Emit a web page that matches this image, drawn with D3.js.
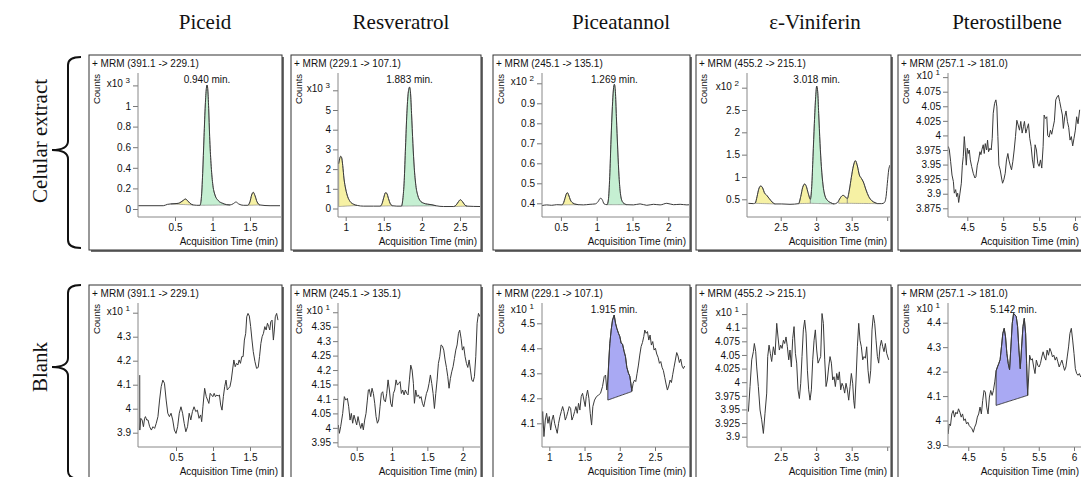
<!DOCTYPE html>
<html><head><meta charset="utf-8">
<script src="https://cdn.jsdelivr.net/npm/d3@7"></script>
<style>body{margin:0;background:#fff}svg{display:block}</style>
</head><body>
<svg id="chart" width="1081" height="477"></svg>
<script>
// ---------------- DATA ----------------
const columns = ["Piceid", "Resveratrol", "Piceatannol", "ε-Viniferin", "Pterostilbene"];
const rowLabels = ["Celular extract", "Blank"];
const mrmLabels = ["+ MRM (391.1 -> 229.1)", "+ MRM (229.1 -> 107.1)", "+ MRM (245.1 -> 135.1)", "+ MRM (455.2 -> 215.1)", "+ MRM (257.1 -> 181.0)",
                   "+ MRM (391.1 -> 229.1)", "+ MRM (245.1 -> 135.1)", "+ MRM (229.1 -> 107.1)", "+ MRM (455.2 -> 215.1)", "+ MRM (257.1 -> 181.0)"];
const exponents = [3, 3, 2, 2, 1, 1, 1, 1, 1, 1];

const yTicks = [
  [0, 0.2, 0.4, 0.6, 0.8, 1, 1.2],
  [0, 1, 2, 3, 4, 5, 6],
  [0.4, 0.5, 0.6, 0.7, 0.8, 0.9, 1.0],
  [0.5, 1, 1.5, 2, 2.5, 3],
  [3.875, 3.9, 3.925, 3.95, 3.975, 4, 4.025, 4.05, 4.075, 4.1],
  [3.9, 4, 4.1, 4.2, 4.3, 4.4],
  [3.95, 4, 4.05, 4.1, 4.15, 4.2, 4.25, 4.3, 4.35, 4.4],
  [4.1, 4.2, 4.3, 4.4, 4.5],
  [3.9, 3.925, 3.95, 3.975, 4, 4.025, 4.05, 4.075, 4.1, 4.125],
  [3.9, 4, 4.1, 4.2, 4.3, 4.4]
];
// level of the "x10^n" label (top tick, shown without number)
const exponentAt = [1.2, 6, 1.0, 3, 4.1, 4.4, 4.4, 4.55, 4.125, 4.45];

const xTicks = [
  [0.5, 1, 1.5], [1, 1.5, 2, 2.5], [0.5, 1, 1.5, 2], [2.5, 3, 3.5, 4], [4.5, 5, 5.5, 6],
  [0.5, 1, 1.5], [0.5, 1, 1.5, 2], [1, 1.5, 2, 2.5], [2.5, 3, 3.5, 4], [4.5, 5, 5.5, 6]
];
const xTicksUnlabeled = [[], [], [], [4], [], [], [], [], [4], []];

// traces: [acquisition time (min), counts (in units of x10^n)]
const piceidCell = [[0.011,0.032],[0.344,0.032],[0.398,0.045],[0.442,0.049],[0.5,0.052],[0.544,0.055],[0.58,0.068],[0.611,0.084],[0.638,0.097],[0.664,0.084],[0.70,0.055],[0.744,0.039],[0.789,0.036],[0.833,0.036],[0.851,0.104],[0.869,0.346],[0.887,0.702],[0.904,1.01],[0.918,1.17],[0.927,1.204],[0.936,1.17],[0.949,0.977],[0.962,0.702],[0.98,0.443],[1.002,0.249],[1.033,0.136],[1.078,0.081],[1.136,0.055],[1.189,0.042],[1.233,0.039],[1.278,0.052],[1.313,0.068],[1.349,0.049],[1.411,0.036],[1.469,0.036],[1.50,0.071],[1.522,0.136],[1.544,0.162],[1.567,0.129],[1.593,0.071],[1.633,0.039],[1.767,0.032],[1.90,0.032]];

const resveratrolCell = [[0.908,2.27],[0.921,2.53],[0.934,2.65],[0.947,2.58],[0.961,2.18],[0.978,1.50],[1.0,0.99],[1.026,0.60],[1.057,0.36],[1.101,0.22],[1.154,0.154],[1.232,0.12],[1.364,0.12],[1.452,0.12],[1.478,0.256],[1.50,0.563],[1.522,0.80],[1.539,0.77],[1.561,0.51],[1.588,0.222],[1.618,0.137],[1.671,0.12],[1.732,0.12],[1.75,0.478],[1.768,1.416],[1.785,3.12],[1.803,4.83],[1.82,5.85],[1.838,6.16],[1.851,5.85],[1.864,4.83],[1.882,3.29],[1.899,2.10],[1.921,1.16],[1.947,0.65],[1.978,0.39],[2.022,0.27],[2.075,0.22],[2.132,0.188],[2.189,0.137],[2.285,0.10],[2.417,0.10],[2.452,0.188],[2.482,0.358],[2.504,0.444],[2.531,0.358],[2.561,0.188],[2.592,0.12],[2.768,0.10]];

const piceatannolCell = [[0.231,0.388],[0.301,0.392],[0.371,0.39],[0.441,0.393],[0.515,0.392],[0.538,0.403],[0.557,0.425],[0.576,0.447],[0.59,0.453],[0.608,0.442],[0.632,0.417],[0.664,0.402],[0.711,0.395],[0.748,0.393],[0.814,0.392],[0.907,0.395],[0.981,0.397],[1.019,0.408],[1.051,0.425],[1.075,0.42],[1.103,0.397],[1.145,0.393],[1.163,0.417],[1.182,0.533],[1.20,0.717],[1.219,0.883],[1.233,0.967],[1.247,0.995],[1.261,0.958],[1.275,0.833],[1.294,0.667],[1.312,0.533],[1.331,0.45],[1.359,0.408],[1.392,0.397],[1.42,0.393],[1.513,0.392],[1.606,0.397],[1.699,0.39],[1.793,0.395],[1.886,0.392],[1.979,0.40],[2.072,0.393],[2.166,0.395],[2.259,0.392],[2.305,0.393]];

const viniferinCell = [[2.045,0.41],[2.115,0.403],[2.143,0.418],[2.167,0.56],[2.19,0.724],[2.218,0.798],[2.246,0.754],[2.27,0.649],[2.303,0.589],[2.34,0.515],[2.378,0.44],[2.425,0.396],[2.514,0.396],[2.631,0.388],[2.754,0.403],[2.782,0.56],[2.81,0.768],[2.838,0.843],[2.862,0.783],[2.885,0.649],[2.918,0.50],[2.937,0.783],[2.955,1.455],[2.974,2.20],[2.993,2.80],[3.007,3.035],[3.021,2.909],[3.035,2.424],[3.054,1.753],[3.073,1.231],[3.096,0.821],[3.124,0.575],[3.162,0.47],[3.204,0.425],[3.251,0.396],[3.298,0.425],[3.317,0.47],[3.345,0.545],[3.378,0.589],[3.411,0.552],[3.439,0.515],[3.467,0.709],[3.495,0.992],[3.524,1.246],[3.552,1.365],[3.58,1.246],[3.608,1.044],[3.636,0.97],[3.664,0.888],[3.702,0.709],[3.74,0.56],[3.782,0.47],[3.829,0.425],[3.866,0.403],[3.923,0.403],[3.96,0.425],[3.984,0.56],[4.002,0.858],[4.021,1.156],[4.04,1.268]];

const pterostilbeneCell = [[4.236,3.981],[4.25,3.975],[4.268,3.955],[4.287,3.932],[4.306,3.921],[4.319,3.901],[4.338,3.907],[4.352,3.895],[4.366,3.901],[4.38,3.885],[4.398,3.901],[4.417,3.918],[4.431,3.949],[4.444,3.964],[4.458,3.998],[4.472,3.975],[4.486,3.949],[4.5,3.978],[4.514,3.969],[4.528,3.975],[4.542,3.958],[4.56,3.947],[4.583,3.935],[4.606,3.927],[4.62,3.929],[4.639,3.949],[4.657,3.958],[4.676,3.972],[4.69,3.967],[4.704,3.976],[4.722,3.984],[4.736,3.969],[4.75,3.986],[4.769,3.975],[4.782,3.992],[4.796,3.972],[4.815,3.978],[4.833,3.975],[4.847,3.995],[4.861,4.038],[4.88,4.055],[4.898,4.061],[4.912,4.049],[4.926,3.998],[4.94,3.949],[4.958,3.941],[4.977,3.927],[4.991,3.918],[5.009,3.924],[5.028,3.935],[5.046,3.958],[5.065,3.969],[5.079,3.958],[5.097,3.949],[5.116,3.941],[5.134,3.955],[5.153,3.975],[5.171,3.998],[5.19,4.026],[5.208,4.018],[5.227,4.009],[5.245,4.024],[5.264,4.004],[5.282,4.015],[5.296,4.024],[5.315,4.004],[5.333,4.012],[5.352,4.02],[5.37,3.995],[5.389,3.981],[5.407,3.958],[5.426,3.944],[5.444,3.984],[5.463,3.975],[5.482,3.952],[5.5,3.947],[5.519,3.958],[5.537,3.944],[5.556,3.981],[5.57,4.035],[5.588,4.029],[5.607,4.032],[5.62,4.0],[5.639,3.997],[5.658,4.009],[5.676,4.002],[5.695,4.014],[5.713,4.025],[5.732,4.061],[5.75,4.066],[5.769,4.069],[5.787,4.058],[5.806,4.046],[5.824,4.035],[5.838,4.012],[5.857,4.032],[5.875,4.042],[5.894,4.024],[5.912,4.014],[5.931,3.992],[5.949,3.998],[5.968,3.982],[5.986,3.995],[6.005,4.009],[6.023,4.032],[6.042,4.02],[6.065,4.044]];

const piceidBlank = [[0.01,4.14],[0.011,3.911],[0.024,3.96],[0.042,3.953],[0.06,3.925],[0.076,3.96],[0.087,3.967],[0.104,3.953],[0.122,3.953],[0.144,3.925],[0.167,3.911],[0.189,3.925],[0.211,3.918],[0.233,3.939],[0.256,3.967],[0.278,4.036],[0.30,4.092],[0.322,4.119],[0.344,4.106],[0.367,4.036],[0.389,3.981],[0.411,3.967],[0.433,3.981],[0.456,3.953],[0.478,3.911],[0.5,3.897],[0.522,3.925],[0.544,3.981],[0.567,4.008],[0.589,3.981],[0.611,3.939],[0.633,3.904],[0.656,3.925],[0.678,3.981],[0.70,3.953],[0.722,3.988],[0.744,4.008],[0.767,3.988],[0.789,3.994],[0.811,3.96],[0.833,3.974],[0.847,3.946],[0.864,4.008],[0.887,4.085],[0.909,4.05],[0.927,4.036],[0.944,4.022],[0.962,4.064],[0.98,4.057],[0.998,4.05],[1.016,4.064],[1.033,4.05],[1.051,4.057],[1.069,4.053],[1.087,4.057],[1.104,4.015],[1.122,3.994],[1.14,4.05],[1.158,4.092],[1.176,4.119],[1.193,4.078],[1.211,4.085],[1.229,4.092],[1.247,4.119],[1.264,4.161],[1.282,4.203],[1.30,4.175],[1.318,4.189],[1.336,4.182],[1.353,4.203],[1.371,4.189],[1.389,4.217],[1.407,4.217],[1.424,4.286],[1.442,4.314],[1.456,4.383],[1.473,4.397],[1.491,4.386],[1.509,4.342],[1.527,4.286],[1.544,4.238],[1.567,4.196],[1.589,4.168],[1.611,4.172],[1.629,4.217],[1.647,4.272],[1.664,4.30],[1.682,4.314],[1.70,4.342],[1.718,4.328],[1.736,4.356],[1.753,4.342],[1.767,4.328],[1.78,4.362],[1.798,4.369],[1.816,4.286],[1.829,4.328],[1.842,4.383],[1.86,4.397],[1.878,4.369]];

const resveratrolBlank = [[0.24,4.01],[0.255,3.981],[0.273,4.004],[0.302,4.05],[0.325,4.108],[0.344,4.096],[0.368,4.102],[0.387,4.073],[0.406,4.027],[0.424,4.05],[0.443,4.016],[0.462,4.044],[0.481,4.027],[0.50,4.01],[0.519,4.039],[0.538,4.016],[0.557,3.998],[0.576,4.016],[0.594,3.993],[0.613,4.027],[0.632,4.05],[0.651,4.096],[0.665,4.131],[0.679,4.133],[0.698,4.108],[0.717,4.137],[0.736,4.119],[0.755,4.085],[0.774,4.039],[0.793,4.016],[0.812,4.027],[0.83,4.073],[0.849,4.119],[0.868,4.125],[0.887,4.096],[0.906,4.09],[0.925,4.119],[0.944,4.166],[0.963,4.131],[0.981,4.085],[1.00,4.073],[1.019,4.119],[1.038,4.131],[1.057,4.166],[1.076,4.148],[1.095,4.154],[1.114,4.16],[1.132,4.119],[1.151,4.131],[1.17,4.114],[1.189,4.131],[1.208,4.119],[1.227,4.114],[1.246,4.166],[1.265,4.217],[1.284,4.20],[1.302,4.154],[1.317,4.085],[1.335,4.131],[1.354,4.108],[1.373,4.114],[1.392,4.102],[1.411,4.108],[1.43,4.085],[1.449,4.073],[1.468,4.096],[1.487,4.119],[1.505,4.131],[1.524,4.154],[1.543,4.183],[1.562,4.154],[1.581,4.119],[1.60,4.067],[1.619,4.119],[1.638,4.166],[1.656,4.223],[1.675,4.246],[1.694,4.287],[1.713,4.283],[1.732,4.269],[1.751,4.235],[1.77,4.209],[1.789,4.177],[1.807,4.137],[1.826,4.171],[1.845,4.194],[1.864,4.212],[1.883,4.24],[1.902,4.269],[1.921,4.287],[1.94,4.327],[1.958,4.338],[1.977,4.31],[1.996,4.269],[2.015,4.281],[2.034,4.246],[2.053,4.223],[2.072,4.209],[2.091,4.235],[2.11,4.2],[2.128,4.166],[2.147,4.16],[2.166,4.177],[2.185,4.246],[2.204,4.362],[2.223,4.396],[2.242,4.385]];

const piceatannolBlank = [[0.891,4.08],[0.906,4.147],[0.924,4.047],[0.943,4.113],[0.962,4.14],[0.981,4.10],[1.0,4.127],[1.019,4.073],[1.038,4.113],[1.057,4.133],[1.076,4.10],[1.094,4.08],[1.113,4.06],[1.132,4.10],[1.151,4.127],[1.17,4.147],[1.189,4.167],[1.208,4.147],[1.227,4.113],[1.245,4.127],[1.264,4.147],[1.283,4.167],[1.302,4.16],[1.321,4.113],[1.34,4.127],[1.359,4.147],[1.378,4.167],[1.397,4.14],[1.415,4.18],[1.434,4.153],[1.453,4.207],[1.472,4.22],[1.491,4.193],[1.51,4.167],[1.524,4.207],[1.543,4.233],[1.562,4.20],[1.581,4.14],[1.60,4.093],[1.618,4.167],[1.642,4.193],[1.67,4.207],[1.699,4.213],[1.727,4.22],[1.755,4.247],[1.779,4.287],[1.798,4.293],[1.816,4.233],[1.831,4.273],[1.845,4.353],[1.859,4.42],[1.878,4.473],[1.897,4.513],[1.921,4.533],[1.94,4.50],[1.958,4.48],[1.982,4.46],[2.001,4.447],[2.02,4.42],[2.039,4.417],[2.062,4.387],[2.081,4.367],[2.10,4.324],[2.124,4.30],[2.142,4.289],[2.157,4.26],[2.171,4.229],[2.19,4.26],[2.209,4.273],[2.227,4.267],[2.246,4.30],[2.265,4.333],[2.284,4.373],[2.303,4.407],[2.322,4.423],[2.341,4.447],[2.355,4.473],[2.374,4.46],[2.393,4.467],[2.412,4.433],[2.43,4.453],[2.449,4.413],[2.468,4.427],[2.487,4.393],[2.506,4.40],[2.525,4.377],[2.544,4.364],[2.563,4.34],[2.582,4.347],[2.60,4.324],[2.619,4.311],[2.638,4.284],[2.657,4.257],[2.676,4.233],[2.695,4.249],[2.714,4.273],[2.733,4.263],[2.752,4.296],[2.77,4.324],[2.789,4.353],[2.808,4.383],[2.827,4.369],[2.846,4.343],[2.865,4.357],[2.884,4.329],[2.903,4.319],[2.921,4.329]];

const viniferinBlank = [[2.045,3.946],[2.068,3.992],[2.092,4.041],[2.115,4.056],[2.129,4.071],[2.148,4.056],[2.162,4.028],[2.185,3.992],[2.209,3.949],[2.232,3.931],[2.256,3.906],[2.279,3.943],[2.303,3.98],[2.317,4.047],[2.336,4.068],[2.354,4.053],[2.373,4.038],[2.397,4.065],[2.42,4.05],[2.444,4.108],[2.462,4.083],[2.481,4.059],[2.50,4.068],[2.519,4.062],[2.538,4.077],[2.556,4.071],[2.575,4.083],[2.594,4.065],[2.613,4.041],[2.631,4.059],[2.65,4.028],[2.669,4.08],[2.688,4.102],[2.707,4.053],[2.725,4.035],[2.744,3.986],[2.763,3.97],[2.782,3.998],[2.80,4.047],[2.819,4.096],[2.838,4.114],[2.857,4.09],[2.876,4.022],[2.894,3.986],[2.913,3.967],[2.932,3.986],[2.951,4.041],[2.97,4.077],[2.988,4.096],[3.007,4.059],[3.026,4.035],[3.045,4.041],[3.063,4.047],[3.082,4.126],[3.101,4.108],[3.12,4.041],[3.139,3.992],[3.157,4.004],[3.176,4.028],[3.195,4.047],[3.214,4.035],[3.232,4.004],[3.251,4.01],[3.27,3.992],[3.289,4.016],[3.308,4.004],[3.326,4.019],[3.345,3.986],[3.364,3.998],[3.383,3.992],[3.401,3.98],[3.42,3.998],[3.439,3.986],[3.458,3.967],[3.477,3.992],[3.495,4.016],[3.514,3.998],[3.528,3.967],[3.542,3.952],[3.561,4.004],[3.58,4.065],[3.599,4.108],[3.617,4.077],[3.636,4.065],[3.655,4.041],[3.674,4.047],[3.693,4.044],[3.711,4.065],[3.73,4.022],[3.749,3.998],[3.768,4.022],[3.786,4.096],[3.805,4.123],[3.824,4.108],[3.843,4.077],[3.862,4.047],[3.88,4.035],[3.899,4.065],[3.918,4.077],[3.937,4.065],[3.955,4.056],[3.974,4.071],[3.993,4.053],[4.021,4.041]];

const pterostilbeneBlank = [[4.215,3.945],[4.229,3.986],[4.248,3.979],[4.267,4.027],[4.286,4.041],[4.305,4.014],[4.324,4.034],[4.343,4.027],[4.362,4.048],[4.381,4.034],[4.40,4.014],[4.419,4.027],[4.438,4.0],[4.457,4.007],[4.476,3.986],[4.495,3.993],[4.514,3.979],[4.534,3.973],[4.553,3.966],[4.572,3.952],[4.591,3.973],[4.61,3.986],[4.629,4.014],[4.648,4.027],[4.667,4.055],[4.686,4.027],[4.705,4.082],[4.724,4.123],[4.743,4.116],[4.762,4.055],[4.781,4.027],[4.80,4.096],[4.819,4.123],[4.838,4.103],[4.857,4.123],[4.876,4.158],[4.895,4.203],[4.914,4.219],[4.933,4.233],[4.952,4.249],[4.971,4.301],[4.99,4.356],[5.01,4.377],[5.029,4.342],[5.048,4.274],[5.067,4.233],[5.086,4.208],[5.105,4.301],[5.124,4.397],[5.143,4.438],[5.162,4.432],[5.181,4.425],[5.20,4.384],[5.219,4.288],[5.238,4.212],[5.257,4.301],[5.276,4.384],[5.295,4.418],[5.314,4.356],[5.328,4.233],[5.343,4.103],[5.357,4.178],[5.371,4.267],[5.39,4.247],[5.409,4.253],[5.428,4.219],[5.447,4.192],[5.466,4.247],[5.486,4.226],[5.505,4.219],[5.524,4.233],[5.543,4.26],[5.562,4.281],[5.581,4.26],[5.60,4.247],[5.619,4.288],[5.638,4.267],[5.657,4.295],[5.676,4.281],[5.695,4.26],[5.714,4.267],[5.733,4.247],[5.752,4.26],[5.771,4.24],[5.79,4.219],[5.809,4.233],[5.828,4.247],[5.847,4.226],[5.866,4.205],[5.885,4.219],[5.904,4.26],[5.923,4.301],[5.942,4.356],[5.962,4.377],[5.981,4.329],[6.0,4.274],[6.019,4.212],[6.038,4.192],[6.057,4.185],[6.076,4.192],[6.095,4.178]];

// integrated peaks: start/end time, baseline counts at start/end, kind, label
const piceidCellPeaks = [
  {t0:0.442, t1:0.744, b0:0.049, b1:0.039, kind:"minor"},
  {t0:0.833, t1:1.233, b0:0.036, b1:0.039, kind:"main", label:"0.940 min."},
  {t0:1.469, t1:1.633, b0:0.036, b1:0.039, kind:"minor"}];
const resveratrolCellPeaks = [
  {t0:0.908, t1:1.154, b0:0.10, b1:0.154, kind:"minor"},
  {t0:1.452, t1:1.618, b0:0.12, b1:0.137, kind:"minor"},
  {t0:1.732, t1:2.189, b0:0.12, b1:0.137, kind:"main", label:"1.883 min."},
  {t0:2.417, t1:2.592, b0:0.10, b1:0.12, kind:"minor"}];
const piceatannolCellPeaks = [
  {t0:0.515, t1:0.748, b0:0.392, b1:0.393, kind:"minor"},
  {t0:1.145, t1:1.42, b0:0.393, b1:0.393, kind:"main", label:"1.269 min."}];
const viniferinCellPeaks = [
  {t0:2.143, t1:2.425, b0:0.41, b1:0.396, kind:"minor"},
  {t0:2.754, t1:2.918, b0:0.403, b1:0.41, kind:"minor"},
  {t0:2.918, t1:3.251, b0:0.41, b1:0.396, kind:"main", label:"3.018 min."},
  {t0:3.317, t1:3.439, b0:0.41, b1:0.41, kind:"minor"},
  {t0:3.439, t1:3.866, b0:0.41, b1:0.403, kind:"minor"}];
const pterostilbeneCellPeaks = [];
const piceidBlankPeaks = [];
const resveratrolBlankPeaks = [];
const piceatannolBlankPeaks = [{t0:1.831, t1:2.171, b0:4.193, b1:4.227, kind:"blank", label:"1.915 min."}];
const viniferinBlankPeaks = [];
const pterostilbeneBlankPeaks = [{t0:4.895, t1:5.343, b0:4.062, b1:4.103, kind:"blank", label:"5.142 min."}];

const traces = [piceidCell, resveratrolCell, piceatannolCell, viniferinCell, pterostilbeneCell,
                piceidBlank, resveratrolBlank, piceatannolBlank, viniferinBlank, pterostilbeneBlank];
const peaks = [piceidCellPeaks, resveratrolCellPeaks, piceatannolCellPeaks, viniferinCellPeaks, pterostilbeneCellPeaks,
               piceidBlankPeaks, resveratrolBlankPeaks, piceatannolBlankPeaks, viniferinBlankPeaks, pterostilbeneBlankPeaks];

// ---------------- LAYOUT ----------------
const boxes = [[89,55,193,195],[291,55,190,195],[493,55,197,195],[696,55,195,195],[898,55,185,195],
               [89,285,193,195],[291,285,190,195],[493,285,197,195],[696,285,195,195],[898,285,185,195]];
const axisXs = [138,338,542,747,948,138,338,542,747,948];
// pixel calibration pairs [value, pixel]
const xCal = [[[0.5,175],[1.5,250]],[[1,345.7],[2.5,460]],[[1,596.7],[2,668.3]],[[2.5,780.7],[3.5,851.7]],[[4.5,967.3],[6,1075]],
              [[0.5,176],[1.5,250]],[[0.5,356.7],[2,462.7]],[[1,549.3],[2.5,655]],[[2.5,780.7],[3.5,851.7]],[[5,1003.5],[6,1074]]];
const yCal = [[[0,209],[1,106]],[[0,208.5],[5,110]],[[0.4,203.3],[0.9,103.3]],[[0.5,199.3],[2.5,110]],[[3.875,208.3],[4.075,91.7]],
              [[3.9,432.7],[4.3,336.7]],[[3.95,442.3],[4.35,326.7]],[[4.1,423.3],[4.5,323.3]],[[3.9,436.7],[4.1,327.7]],[[3.9,445],[4.4,322.7]]];
const colTitleX = [205, 401, 621, 815, 1007];
const fillColors = {main:"#c5efd2", minor:"#f6f1a4", blank:"#a9a9f3"};
const FONT = "Liberation Sans, Arial, sans-serif";
const SERIF = "Liberation Serif, Times New Roman, serif";

const svg = d3.select("#chart");
const fmt = d3.format("~g");

// column titles
svg.selectAll("text.col").data(columns).join("text")
  .attr("x", (d,i)=>colTitleX[i]).attr("y", 29).attr("text-anchor","middle")
  .attr("font-family", SERIF).attr("font-size", 21).attr("fill","#111").text(d=>d);

// row labels and braces
const rowMid = [141, 367];
rowLabels.forEach((lab,i)=>{
  svg.append("text").attr("transform",`translate(40,${rowMid[i]}) rotate(-90)`)
    .attr("text-anchor","middle").attr("dominant-baseline","central")
    .attr("font-family", SERIF).attr("font-size", 21).attr("fill","#111").text(lab);
});
const braceSpans = [[57,248,150],[285,479,367]];
braceSpans.forEach(([a,b,m])=>{
  const p = d3.path();
  p.moveTo(81,a); p.quadraticCurveTo(68,a,68,a+8); p.lineTo(68,m-9);
  p.quadraticCurveTo(68,m,52,m); p.quadraticCurveTo(68,m,68,m+9);
  p.lineTo(68,b-8); p.quadraticCurveTo(68,b,81,b);
  svg.append("path").attr("d",p.toString()).attr("fill","none").attr("stroke","#111").attr("stroke-width",2);
});

// panels
for (let i=0;i<10;i++){
  const [bx,by,bw,bh] = boxes[i];
  const ax = axisXs[i];
  const top = by+18, bottom = by+162, right = bx+bw-1;
  const x = d3.scaleLinear().domain([xCal[i][0][0],xCal[i][1][0]]).range([xCal[i][0][1],xCal[i][1][1]]);
  x.domain([x.invert(ax), x.invert(right)]).range([ax, right]);
  const y = d3.scaleLinear().domain([yCal[i][0][0],yCal[i][1][0]]).range([yCal[i][0][1],yCal[i][1][1]]);
  y.domain([y.invert(bottom), y.invert(top)]).range([bottom, top]);

  const g = svg.append("g");
  // shadow + box
  g.append("rect").attr("x",bx+2).attr("y",by+2).attr("width",bw).attr("height",bh).attr("fill","#6e6e6e");
  g.append("rect").attr("x",bx).attr("y",by).attr("width",bw).attr("height",bh)
    .attr("fill","#fff").attr("stroke","#333").attr("stroke-width",1);

  const clipId = "clip"+i;
  g.append("clipPath").attr("id",clipId).append("rect")
    .attr("x",ax).attr("y",by+1).attr("width",right-ax).attr("height",bottom-by-1);

  const smooth = i<4;
  const curve = smooth ? d3.curveMonotoneX : d3.curveLinear;
  const tr = traces[i];

  // filled peaks
  peaks[i].forEach(pk=>{
    const seg = tr.filter(d=>d[0]>=pk.t0-1e-9 && d[0]<=pk.t1+1e-9);
    const base = t => pk.b0 + (pk.b1-pk.b0)*(t-pk.t0)/(pk.t1-pk.t0);
    const area = d3.area().curve(curve).x(d=>x(d[0])).y1(d=>y(d[1])).y0(d=>y(base(d[0])));
    g.append("path").attr("d",area(seg)).attr("clip-path",`url(#${clipId})`)
      .attr("fill",fillColors[pk.kind]).attr("stroke", pk.kind==="blank" ? "#333" : "#777")
      .attr("stroke-width", pk.kind==="blank" ? 0.9 : 0.6);
    if (pk.label){
      const apex = seg.reduce((a,b)=> b[1]>a[1]?b:a);
      g.append("text").attr("x",x(apex[0])).attr("y",by+28).attr("text-anchor","middle")
        .attr("font-family",FONT).attr("font-size",10).attr("fill","#111").text(pk.label);
    }
  });

  // trace
  const line = d3.line().curve(curve).x(d=>x(d[0])).y(d=>y(d[1]));
  g.append("path").attr("d",line(tr)).attr("clip-path",`url(#${clipId})`)
    .attr("fill","none").attr("stroke","#3a3a3a").attr("stroke-width",1);

  // axes
  const expAt = exponentAt[i];
  const yAxis = d3.axisLeft(y).tickValues(yTicks[i]).tickSize(5).tickPadding(2)
    .tickFormat(v => Math.abs(v-expAt)<1e-9 ? "" : fmt(v));
  const ya = g.append("g").attr("transform",`translate(${ax},0)`).call(yAxis);
  ya.select(".domain").remove();
  const xAxis = d3.axisBottom(x).tickValues(xTicks[i]).tickSize(4).tickPadding(3)
    .tickFormat(v => xTicksUnlabeled[i].includes(v) ? "" : fmt(v));
  const xa = g.append("g").attr("transform",`translate(0,${bottom})`).call(xAxis);
  xa.select(".domain").remove();
  [ya,xa].forEach(a=>{
    a.attr("font-family",FONT).attr("font-size",10);
    a.selectAll("text").attr("fill","#111");
    a.selectAll("line").attr("stroke","#777");
  });
  g.append("line").attr("x1",ax).attr("x2",ax).attr("y1",top).attr("y2",bottom).attr("stroke","#888");
  g.append("line").attr("x1",ax).attr("x2",right).attr("y1",bottom).attr("y2",bottom).attr("stroke","#888");

  // labels
  g.append("text").attr("x",bx+3).attr("y",by+12).attr("font-family",FONT).attr("font-size",10)
    .attr("fill","#111").text(mrmLabels[i]);
  g.append("text").attr("transform",`translate(${bx+7},${by+34}) rotate(-90)`)
    .attr("text-anchor","middle").attr("dominant-baseline","central")
    .attr("font-family",FONT).attr("font-size",9.5).attr("fill","#111").text("Counts");
  const ex = g.append("text").attr("x",ax-8).attr("y",y(expAt)+2).attr("text-anchor","end")
    .attr("font-family",FONT).attr("font-size",10).attr("fill","#111");
  ex.append("tspan").text("x10 ");
  ex.append("tspan").attr("dy",-4).attr("font-size",8).text(exponents[i]);
  g.append("text").attr("x",bx+bw-4).attr("y",by+190).attr("text-anchor","end")
    .attr("font-family",FONT).attr("font-size",10).attr("fill","#111").text("Acquisition Time (min)");
}
</script>
</body></html>
